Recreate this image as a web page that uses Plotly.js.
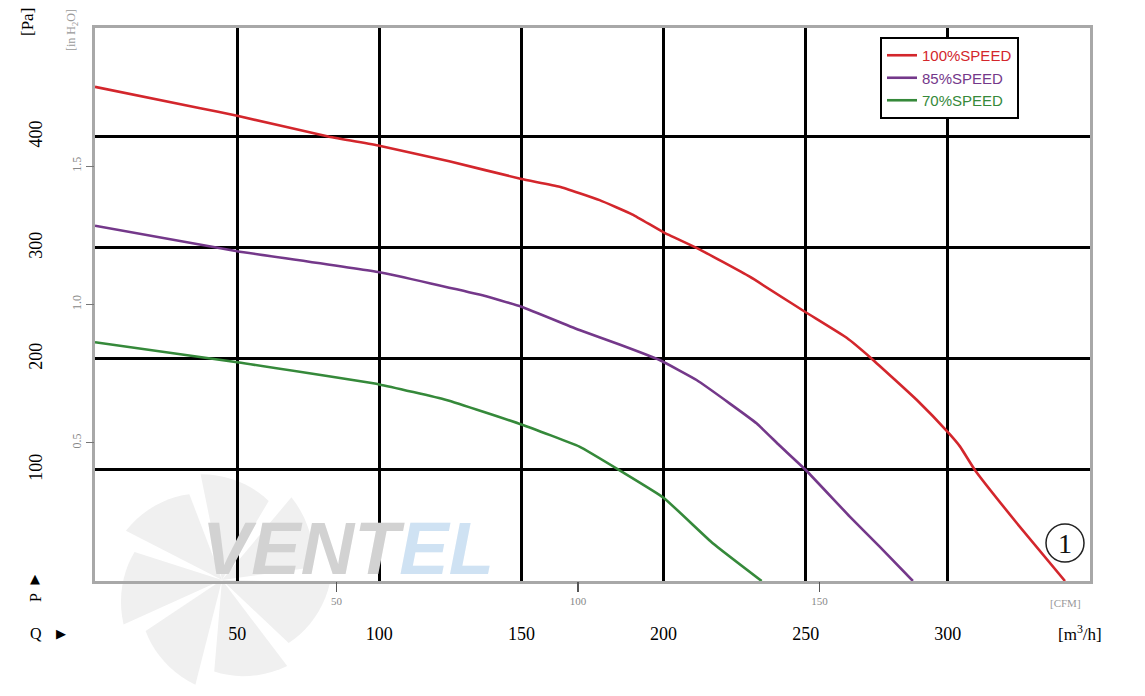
<!DOCTYPE html>
<html>
<head>
<meta charset="utf-8">
<script src="https://cdn.plot.ly/plotly-3.0.1.min.js"></script>
<style>html,body{margin:0;padding:0;background:#fff;}#chart{width:1145px;height:696px;}</style>
</head>
<body>
<div id="chart"></div>
<script>
// Airflow Q [m³/h] and static pressure P [Pa]
const q100 = [0, 36.6, 50, 82.4, 100, 124.6, 150, 163.4, 177.5, 189.1, 200, 211.6, 230.3, 250, 264.4, 273.3, 289.1, 300, 304.3, 309.5, 324.3, 341.2];
const p100 = [445, 426, 419, 400, 392, 378, 362, 355, 343, 330, 314, 300, 274, 242, 219, 200, 163, 134, 121, 100, 52, 0];

const q85 = [0, 50, 100, 135.2, 150, 170.4, 184.5, 198.6, 211.6, 223.2, 232.7, 240.8, 250, 265.5, 276, 287.7];
const p85 = [320, 297, 278, 258, 247, 226, 213, 199, 181, 160, 142, 122, 100, 58, 31, 0];

const q70 = [0, 50, 100, 123.6, 150, 170.4, 185.6, 200, 217.3, 234.5];
const p70 = [215, 197, 177, 163, 141, 121, 98, 75, 34, 0];

const seriesNames = ["100%SPEED", "85%SPEED", "70%SPEED"];
const seriesColors = ["#d3262c", "#74388a", "#35893a"];

const qTicks = [50, 100, 150, 200, 250, 300];
const pTicks = [100, 200, 300, 400];
const inchTicks = [0.5, 1.0, 1.5];
const cfmTicks = [50, 100, 150];

const PA_PER_INH2O = 249.089;
const M3H_PER_CFM = 1.699;
const qMax = 350, pMax = 498;

// plot-area pixel geometry -> paper coordinates
const L = 95, R = 55, T = 28, B = 115, W = 1145, H = 696;
const pw = W - L - R, ph = H - T - B;
const px = x => (x - L) / pw;
const py = y => (H - B - y) / ph;

function mk(q, p, i) {
  return {
    x: q, y: p, type: "scatter", mode: "lines",
    name: '<span style="color:' + seriesColors[i] + '">' + seriesNames[i] + '</span>',
    line: {color: seriesColors[i], width: 2.6, shape: "spline", smoothing: 0.35},
    hoverinfo: "x+y"
  };
}
const traces = [mk(q100, p100, 0), mk(q85, p85, 1), mk(q70, p70, 2),
  {x: [], y: [], xaxis: "x2", yaxis: "y2", type: "scatter", mode: "lines", showlegend: false, hoverinfo: "skip"}];

// fan watermark blades
const shapes = [];
const cx = 222, cy = 580, rad = 108;
for (let k = 0; k < 7; k++) {
  const a0 = (k * 360 / 7 + 8) * Math.PI / 180;
  const a1 = a0 + 42 * Math.PI / 180;
  let d = "M " + px(cx) + "," + py(cy);
  for (let s = 0; s <= 10; s++) {
    const a = a0 + (a1 - a0) * s / 10;
    const r = rad * (0.85 + 0.15 * s / 10);
    d += " L " + px(cx + r * Math.cos(a)) + "," + py(cy - r * Math.sin(a));
  }
  d += " Z";
  shapes.push({type: "path", xref: "paper", yref: "paper", path: d, fillcolor: "#f0f0f0", line: {width: 0}, layer: "below"});
}
// circled number
shapes.push({type: "circle", xref: "paper", yref: "paper", x0: px(1046), x1: px(1084), y0: py(562), y1: py(524), line: {color: "#222", width: 1.5}, fillcolor: "rgba(255,255,255,0)"});

const serif = "Liberation Serif, Times New Roman, serif";
const ann = (x, y, text, opts) => Object.assign({xref: "paper", yref: "paper", x: px(x), y: py(y), text: text, showarrow: false, xanchor: "center", yanchor: "middle", font: {family: serif, size: 17, color: "#000"}}, opts || {});

const annotations = [
  ann(348, 548, '<b><i>VENT<span style="color:#cfe2f3">EL</span></i></b>', {font: {family: "Liberation Sans, Arial, sans-serif", size: 74, color: "#d2d2d2"}}),
  ann(1065, 543, "1", {font: {family: serif, size: 28, color: "#111"}}),
  ann(28, 22, "[Pa]", {textangle: -90}),
  ann(72, 30, "[in H<sub>2</sub>O]", {textangle: -90, font: {family: serif, size: 12, color: "#999"}}),
  ann(35, 598, "P", {textangle: -90, font: {family: serif, size: 16, color: "#000"}}),
  ann(35, 578, "▲", {font: {family: "DejaVu Sans, sans-serif", size: 13, color: "#000"}}),
  ann(36, 633, "Q", {font: {family: serif, size: 16, color: "#000"}}),
  ann(61, 633, "▶", {font: {family: "DejaVu Sans, sans-serif", size: 13, color: "#000"}}),
  ann(1080, 633, "[m<sup>3</sup>/h]", {font: {family: serif, size: 17, color: "#000"}}),
  ann(1065, 603, "[CFM]", {font: {family: serif, size: 11, color: "#999"}})
];

const layout = {
  width: W, height: H,
  margin: {l: L, r: R, t: T, b: B, pad: 0},
  paper_bgcolor: "#fff", plot_bgcolor: "#fff",
  showlegend: true,
  legend: {x: px(880), y: py(37), xanchor: "left", yanchor: "top", bgcolor: "#fff", bordercolor: "#000", borderwidth: 2,
    font: {family: "Liberation Sans, Arial, sans-serif", size: 15, color: "#000"}, tracegroupgap: 0, itemwidth: 30},
  xaxis: {range: [0, qMax], tickvals: qTicks, ticks: "", showgrid: true, gridcolor: "#000", gridwidth: 3,
    zeroline: false, showline: true, mirror: true, linecolor: "#a8a8a8", linewidth: 3,
    ticklabelstandoff: 34, tickfont: {family: serif, size: 18, color: "#000"}},
  yaxis: {range: [0, pMax], tickvals: pTicks, ticks: "", showgrid: true, gridcolor: "#000", gridwidth: 3,
    zeroline: false, showline: true, mirror: true, linecolor: "#a8a8a8", linewidth: 3,
    tickangle: -90, ticklabelstandoff: 43, tickfont: {family: serif, size: 18, color: "#000"}},
  xaxis2: {overlaying: "x", side: "bottom", anchor: "y", range: [0, qMax / M3H_PER_CFM], tickvals: cfmTicks,
    ticks: "outside", ticklen: 10, tickwidth: 1.5, tickcolor: "#555", showgrid: false, zeroline: false, showline: false,
    tickfont: {family: serif, size: 11, color: "#888"}},
  yaxis2: {overlaying: "y", side: "left", anchor: "x", range: [0, pMax / PA_PER_INH2O], tickvals: inchTicks,
    tickformat: ".1f", ticks: "outside", ticklen: 8, tickwidth: 1.2, tickcolor: "#777", showgrid: false, zeroline: false, showline: false,
    tickangle: -90, tickfont: {family: serif, size: 12, color: "#888"}},
  shapes: shapes,
  annotations: annotations
};

Plotly.newPlot("chart", traces, layout, {displayModeBar: false, staticPlot: true});
</script>
</body>
</html>
